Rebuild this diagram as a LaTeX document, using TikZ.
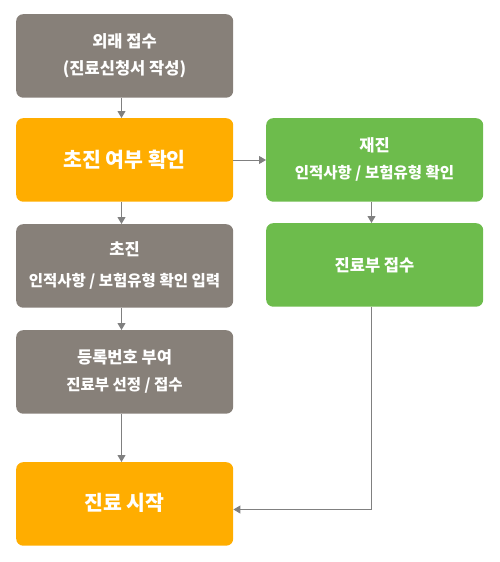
\documentclass[tikz,border=0pt]{standalone}
\usepackage{fontspec}
\setmainfont{Noto Sans CJK KR}
\usetikzlibrary{arrows.meta}
\definecolor{boxgray}{RGB}{135,128,121}
\definecolor{boxorange}{RGB}{255,173,0}
\definecolor{boxgreen}{RGB}{109,188,76}
\definecolor{linegray}{RGB}{128,128,128}
\tikzset{
  box/.style={rounded corners=7pt, minimum width=217pt, minimum height=83.5pt, inner sep=0pt, anchor=north west, draw=none},
  graybox/.style={box, fill=boxgray},
  orangebox/.style={box, fill=boxorange},
  greenbox/.style={box, fill=boxgreen},
  ttl/.style={text=white, font=\bfseries\fontsize{16.5pt}{19pt}\selectfont, inner sep=0pt},
  sub/.style={text=white, font=\bfseries\fontsize{15.5pt}{18pt}\selectfont, inner sep=0pt},
  big/.style={text=white, font=\bfseries\fontsize{20.5pt}{24pt}\selectfont, inner sep=0pt},
  conn/.style={draw=linegray, line width=1pt, -{Triangle[width=8pt,length=7pt]}},
}
\begin{document}
\begin{tikzpicture}[x=1pt,y=-1pt]
\useasboundingbox (0,0) rectangle (500,562);
% boxes
\node[graybox] (b1) at (16,14) {};
\node[orangebox] (b2) at (16,118) {};
\node[graybox] (b3) at (16,224) {};
\node[graybox] (b4) at (16,330) {};
\node[orangebox] (b5) at (16,462) {};
\node[greenbox] (r1) at (266,118) {};
\node[greenbox] (r2) at (266,223) {};
% texts
\node[ttl] (t1a) at (124.5,41) {외래 접수};
\node[ttl] (t1b) at (124.5,69) {(진료신청서 작성)};
\node[big] (t2) at (124.5,159.5) {초진 여부 확인};
\node[ttl] (t3a) at (124.5,249) {초진};
\node[sub] (t3b) at (124.5,281) {인적사항 / 보험유형 확인 입력};
\node[ttl] (t4a) at (124.5,357) {등록번호 부여};
\node[sub] (t4b) at (124.5,385) {진료부 선정 / 접수};
\node[big] (t5) at (124.5,503) {진료 시작};
\node[ttl] (tr1a) at (374.5,145) {재진};
\node[sub] (tr1b) at (374.5,173) {인적사항 / 보험유형 확인};
\node[ttl] (tr2) at (374.5,265) {진료부 접수};
% connectors
\draw[conn] (b1.south -| 121.5,0) -- (b2.north -| 121.5,0);
\draw[conn] (b2.south -| 121.5,0) -- (b3.north -| 121.5,0);
\draw[conn] (b3.south -| 121.5,0) -- (b4.north -| 121.5,0);
\draw[conn] (b4.south -| 121.5,0) -- (b5.north -| 121.5,0);
\draw[conn] (b2.east |- 0,160) -- (r1.west |- 0,160);
\draw[conn] (r1.south -| 371.5,0) -- (r2.north -| 371.5,0);
\coordinate (corner) at (371.5,509.5);
\draw[conn] (r2.south -| corner) -- (corner) -- (b5.east |- corner);
\end{tikzpicture}
\end{document}
